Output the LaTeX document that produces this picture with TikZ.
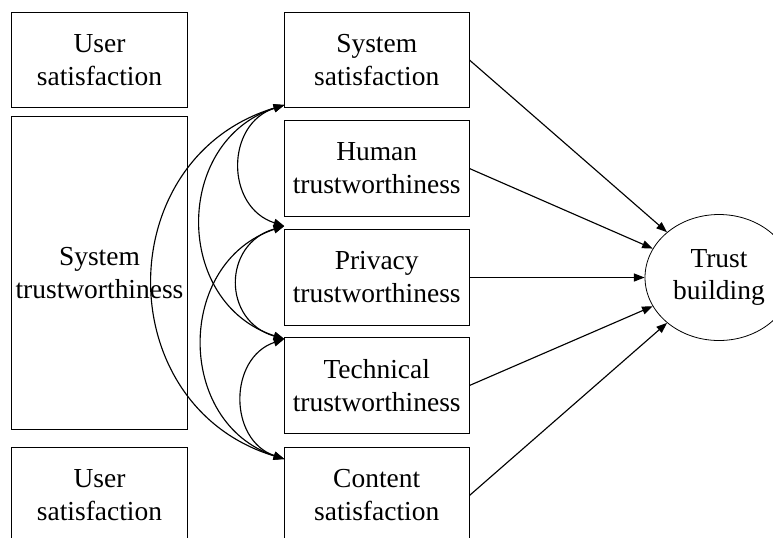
\documentclass[tikz,border=0pt]{standalone}
\usepackage{fontspec}
\setmainfont{Liberation Serif}
\usetikzlibrary{arrows.meta,shapes.geometric}
\begin{document}
\begin{tikzpicture}[x=0.75pt,y=-0.75pt,
  box/.style={draw, line width=0.6pt, inner sep=0pt, align=center, font=\fontsize{20.6}{24.75}\selectfont},
  lbox/.style={box, minimum width=131.7pt, minimum height=71.5pt},
  rbox/.style={box, minimum width=138.5pt, minimum height=71.5pt},
  link/.style={line width=0.85pt, -{Triangle[length=8pt,width=6pt]}},
  corr/.style={line width=0.85pt, {Triangle[length=8pt,width=6pt]}-{Triangle[length=8pt,width=6pt]}}]
\useasboundingbox (0,0) rectangle (773,537);
\clip (0,0) rectangle (773,537);
% left column
\node[lbox] (us1) at (99.5,59.8) {User\\satisfaction};
\node[lbox, minimum height=234.2pt] (st) at (99.5,272.9) {System\\trustworthiness};
\node[lbox] (us2) at (99.5,494.7) {User\\satisfaction};
% right column
\node[rbox] (ss) at (376.7,60) {System\\satisfaction};
\node[rbox] (ht) at (376.7,168.5) {Human\\trustworthiness};
\node[rbox] (pt) at (376.7,277.5) {Privacy\\trustworthiness};
\node[rbox] (tt) at (376.7,385.5) {Technical\\trustworthiness};
\node[rbox] (cs) at (376.7,495.5) {Content\\satisfaction};
% outcome
\node[ellipse, draw, line width=0.6pt, minimum width=111pt, minimum height=94.5pt, inner sep=0pt, align=center, font=\fontsize{20.6}{24}\selectfont] (tb) at (719,277.5) {Trust\\building};
% correlation anchors
\coordinate (c1) at (284.3,105);
\coordinate (c2) at (284.3,226);
\coordinate (c3) at (284.3,339);
\coordinate (c4) at (284.3,459);
% correlations
\draw[corr] (c1) .. controls +(-59,19) and +(-59,-19) .. (c2);
\draw[corr] (c2) .. controls +(-62,18) and +(-62,-18) .. (c3);
\draw[corr] (c3) .. controls +(-56,19) and +(-56,-19) .. (c4);
\draw[corr] (c1) .. controls +(-111,36) and +(-111,-36) .. (c3);
\draw[corr] (c2) .. controls +(-109,36) and +(-109,-36) .. (c4);
\draw[corr] (c1) .. controls +(-175,53) and +(-175,-53) .. (c4);
% paths to trust building
\draw[link] (ss.east) -- (tb);
\draw[link] (ht.east) -- (tb);
\draw[link] (pt.east) -- (tb);
\draw[link] (tt.east) -- (tb);
\draw[link] (cs.east) -- (tb);
\end{tikzpicture}
\end{document}
